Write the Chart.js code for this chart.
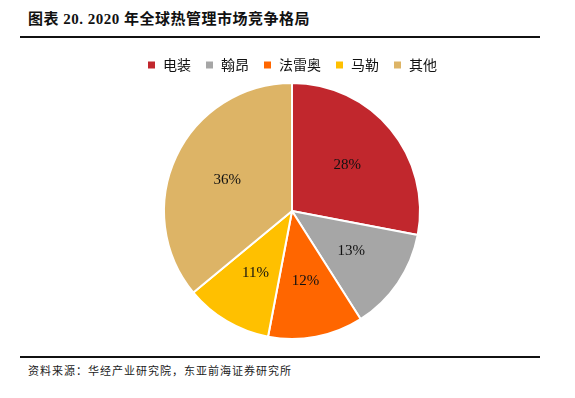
<!DOCTYPE html>
<html><head><meta charset="utf-8">
<script src="https://cdn.jsdelivr.net/npm/chart.js@4"></script>
<style>
html,body{margin:0;padding:0;background:#fff;width:575px;height:398px;overflow:hidden;font-family:"Noto Sans CJK SC",sans-serif;}
#title{position:absolute;left:28px;top:7px;font-size:15px;font-weight:bold;color:#111;font-family:"Liberation Serif","Noto Sans CJK SC",serif;letter-spacing:0.5px;}
#title span{font-family:"Noto Sans CJK SC",sans-serif;}
.rule{position:absolute;left:20px;width:520px;height:2px;background:#111;}
#src{position:absolute;left:28px;top:362px;font-size:11px;color:#222;font-family:"Noto Sans CJK SC",sans-serif;letter-spacing:1px;}
#wrap{position:absolute;left:0;top:44px;width:575px;height:296px;}
</style></head><body>
<div id="title"><span>图表</span> 20. 2020 <span>年全球热管理市场竞争格局</span></div>
<div class="rule" style="top:36px"></div>
<div id="wrap"><canvas id="c"></canvas></div>
<div class="rule" style="top:356px"></div>
<div id="src">资料来源：华经产业研究院，东亚前海证券研究所</div>
<script>
const categories = ["电装","翰昂","法雷奥","马勒","其他"];
const shares = [28,13,12,11,36];
const colors = ["#C1272D","#A6A6A6","#FF6600","#FFC000","#DDB466"];

const labelPlugin = {
  id:'sliceLabels',
  afterDatasetsDraw(chart){
    const ctx = chart.ctx;
    const meta = chart.getDatasetMeta(0);
    ctx.save();
    ctx.font = '15px "Liberation Serif", serif';
    ctx.fillStyle = '#111';
    ctx.textAlign='center'; ctx.textBaseline='middle';
    meta.data.forEach((arc,i)=>{
      const p = arc.getProps(['x','y','startAngle','endAngle','outerRadius'],true);
      const a = (p.startAngle+p.endAngle)/2;
      const r = p.outerRadius*0.56;
      ctx.fillText(shares[i]+'%', p.x+Math.cos(a)*r, p.y+Math.sin(a)*r);
    });
    ctx.restore();
  }
};

new Chart(document.getElementById('c'),{
  type:'pie',
  data:{labels:categories,datasets:[{data:shares,backgroundColor:colors,borderColor:'#fff',borderWidth:2}]},
  options:{
    responsive:true,maintainAspectRatio:false,animation:false,
    layout:{padding:{top:0,bottom:0,left:9}},
    plugins:{
      legend:{position:'top',labels:{boxWidth:9,boxHeight:9,padding:14,color:'#111',font:{size:14,family:'"Noto Sans CJK SC", sans-serif'}}},
      tooltip:{enabled:false}
    }
  },
  plugins:[labelPlugin]
});
</script>
</body></html>
